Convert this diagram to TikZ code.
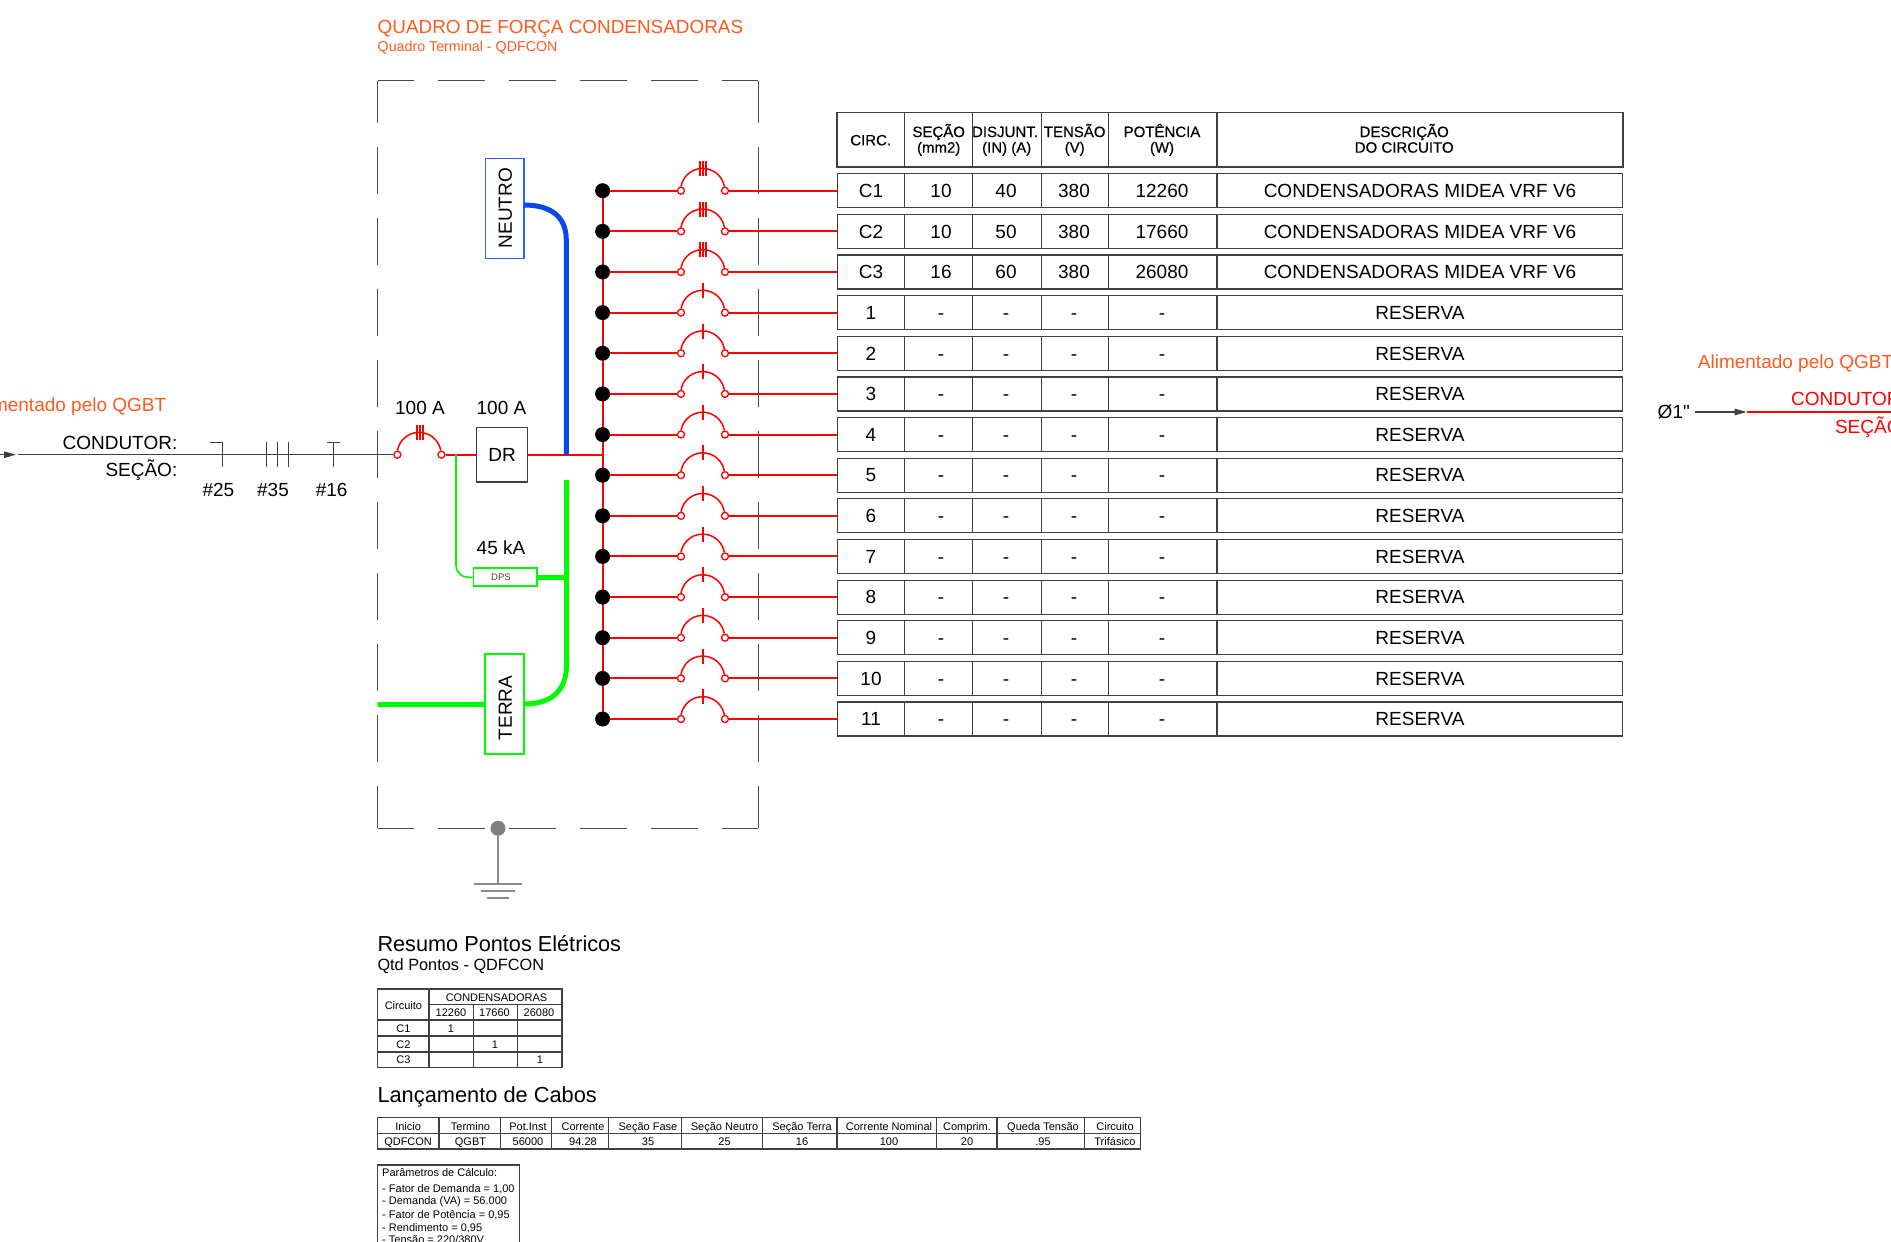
\documentclass[tikz,border=0pt]{standalone}
\usepackage{fontspec}
\setmainfont{Liberation Sans}
\newfontfamily\meionegrito[FakeBold=0.35]{Liberation Sans}
\newfontfamily\fonteplana{Liberation Sans}
\usetikzlibrary{arrows.meta}
\definecolor{laranja}{HTML}{FF5A1E}
\definecolor{azul}{HTML}{0A46F0}
\definecolor{azulclaro}{HTML}{2864FF}
\definecolor{verde}{HTML}{00FA00}
\definecolor{traco}{HTML}{404040}
\definecolor{quadro}{HTML}{484848}
\tikzset{
	tam/.style={font=\fontsize{#1}{#1}\selectfont, inner sep=0pt, text height=0.716*#1 pt, text depth=0pt},
	cab/.style={font=\meionegrito\fontsize{15}{15}\selectfont, inner sep=0pt, text height=10.7pt, text depth=0pt},
	fio/.style={line width=2pt, color=red},
	fiofino/.style={line width=1.5pt, color=red},
	preto/.style={line width=1.2pt, color=traco},
	tabela/.style={line width=1.2pt, color=traco},
	pontilha/.style={line width=1.2pt, color=quadro, dash pattern=on 47.3pt off 23.7pt},
	seta/.style={-{Triangle[length=12pt, width=6.5pt]}},
	borne/.style={circle, draw=red, fill=white, line width=1.3pt, minimum size=7pt, inner sep=0pt},
	ponto/.style={circle, fill=black, minimum size=15pt, inner sep=0pt},
	terrafio/.style={line width=2pt, color=black!45},
}
\def\tico(#1,#2){\draw[fiofino] (#1,#2-29.7) -- (#1,#2-14.7);}
\def\disjuntor(#1,#2)#3{
	\node[borne] (#3a) at (#1-22,#2) {};
	\node[borne] (#3b) at (#1+22,#2) {};
	\draw[fiofino] (#3a.north) arc[start angle=170, end angle=10, radius=22pt];
}
\begin{document}
\begin{tikzpicture}[x=1pt, y=-1pt]
	\useasboundingbox (0,0) rectangle (1891,1242);
	\clip (0,0) rectangle (1891,1242);
	%%%%% QUADRO %%%%%

	\node[tam=18.9, color=laranja, anchor=west] (titulo) at (377.5,26.5) {QUADRO DE FORÇA CONDENSADORAS};
	\node[tam=14.25, color=laranja, anchor=west] (subtitulo) at (377.5,46) {Quadro Terminal - QDFCON};

	\draw[pontilha, dash phase=11pt] (377.5,80.7) -- (758.2,80.7);
	\draw[pontilha, dash phase=4.7pt] (377.5,80.7) -- (377.5,828.3);
	\draw[pontilha, dash phase=4.7pt] (758.2,80.7) -- (758.2,828.3);
	\draw[pontilha, dash phase=11pt] (377.5,828.3) -- (758.2,828.3);

	%%%%% TERRA DO QUADRO %%%%%
	\node[circle, fill=black!50, minimum size=15pt, inner sep=0pt] (aterra) at (498,828.3) {};
	\coordinate (haste) at (498,884);
	\draw[terrafio] (aterra) -- (haste);
	\draw[terrafio] (474.3,884) -- (521.7,884);
	\draw[terrafio] (480.7,890.7) -- (515.3,890.7);
	\draw[terrafio] (487.3,897.7) -- (509,897.7);

	%%%%% ENTRADA %%%%%
	\node[tam=19, color=laranja, anchor=east] (alimesq) at (166.5,404.3) {Alimentado pelo QGBT};
	\node[tam=19, anchor=east] (condutor) at (177.5,442.3) {CONDUTOR:};
	\node[tam=19, anchor=east] (secao) at (177.5,469.3) {SEÇÃO:};
	\coordinate (inicio) at (-4,454.7);
	\coordinate (setafim) at (16,454.7);
	\coordinate (entrada) at (18,454.7);
	\draw[preto, seta] (inicio) -- (setafim);

	\disjuntor(419.4,454.7){geral}
	\tico(417,454.7) \tico(420,454.7) \tico(423,454.7)
	\draw[preto] (entrada) -- (gerala);

	\draw[preto] (210,442.3) -- (222.4,442.3) -- (222.4,466.7);
	\draw[preto] (266.3,442.3) -- (266.3,466.7);
	\draw[preto] (277.5,442.3) -- (277.5,466.7);
	\draw[preto] (288.8,442.3) -- (288.8,466.7);
	\draw[preto] (327,442.3) -- (339.8,442.3);
	\draw[preto] (333.5,442.3) -- (333.5,466.7);
	\node[tam=19] (fio25) at (218.4,490) {\#25};
	\node[tam=19] (fio35) at (273,490) {\#35};
	\node[tam=19] (fio16) at (331.6,490) {\#16};
	\node[tam=19] (amp1) at (420,407.7) {100 A};
	\node[tam=19] (amp2) at (501.5,407.7) {100 A};

	\node[draw=traco, line width=1.2pt, minimum width=51pt, minimum height=54.7pt, tam=19] (dr) at (502,454.7) {DR};
	\coordinate (derivacao) at (456,454.7);
	\coordinate (juncaon) at (566.3,454.7);
	\coordinate (barra) at (602.6,454.7);
	\draw[fio] (geralb) -- (dr.west);
	\draw[fio] (dr.east) -- (barra);

	%%%%% NEUTRO E TERRA %%%%%
	\node[draw=azulclaro, line width=1.2pt, minimum width=38.3pt, minimum height=99.6pt, inner sep=0pt] (neutro) at (504.9,208.5) {};
	\node[tam=19, rotate=90] (neutrotxt) at (505,208) {NEUTRO};
	\coordinate (neutrosai) at (524,205);
	\draw[line width=5pt, color=azul] (neutrosai) .. controls (550,205) and (566.3,216) .. (566.3,240) -- (juncaon);

	\node[draw=verde, line width=1.8pt, minimum width=38.7pt, minimum height=100pt, inner sep=0pt] (terra) at (504.7,704.3) {};
	\node[tam=19, rotate=90] (terratxt) at (505,708) {TERRA};
	\coordinate (terrasai) at (524,704);
	\coordinate (terraent) at (377.5,704.5);
	\coordinate (terratopo) at (566.5,480);
	\draw[line width=5pt, color=verde] (terraent) -- (terra.west);
	\draw[line width=5pt, color=verde] (terrasai) .. controls (550,704) and (566.5,692) .. (566.5,665) -- (terratopo);

	\node[draw=verde, line width=1.8pt, minimum width=63.2pt, minimum height=18pt, inner sep=0pt] (dps) at (505,577.3) {};
	\node[tam=9.5, color=black!75] (dpstxt) at (501,577.5) {DPS};
	\coordinate (juncaod) at (566.5,577.3);
	\draw[line width=1.6pt, color=verde, rounded corners=12pt] (derivacao) |- (dps.west);
	\draw[line width=5pt, color=verde] (dps.east) -- (juncaod);
	\node[tam=19] (ka) at (501,548) {45 kA};

	%%%%% CIRCUITOS %%%%%
	\node[draw=traco, line width=1.6pt, minimum width=785.5pt, minimum height=54.3pt, inner sep=0pt] (cabecalho) at (1230,139.8) {};
	\foreach \x in {904.7,972.7,1041.2,1108.7,1217}
		\draw[tabela] (\x,112.7) -- (\x,167);
	\node[cab] (h1) at (870.7,140) {CIRC.};
	\node[cab] (h2a) at (938.7,131.7) {SEÇÃO};
	\node[cab] (h2b) at (938.7,147.3) {(mm2)};
	\node[cab] (h3a) at (1005,131.7) {DISJUNT.};
	\node[cab] (h3b) at (1006.7,147.3) {(IN) (A)};
	\node[cab] (h4a) at (1074.7,131.7) {TENSÃO};
	\node[cab] (h4b) at (1074.7,147.3) {(V)};
	\node[cab] (h5a) at (1162,131.7) {POTÊNCIA};
	\node[cab] (h5b) at (1162,147.3) {(W)};
	\node[cab] (h6a) at (1404.2,131.7) {DESCRIÇÃO};
	\node[cab] (h6b) at (1404.2,147.3) {DO CIRCUITO};

	\draw[fio] (602.6,190.7) -- (602.6,719);
	\foreach \circuito/\secao/\disj/\tensao/\pot/\desc [count=\i from 0] in {
		C1/10/40/380/12260/CONDENSADORAS MIDEA VRF V6,
		C2/10/50/380/17660/CONDENSADORAS MIDEA VRF V6,
		C3/16/60/380/26080/CONDENSADORAS MIDEA VRF V6,
		1/-/-/-/-/RESERVA, 2/-/-/-/-/RESERVA, 3/-/-/-/-/RESERVA,
		4/-/-/-/-/RESERVA, 5/-/-/-/-/RESERVA, 6/-/-/-/-/RESERVA,
		7/-/-/-/-/RESERVA, 8/-/-/-/-/RESERVA, 9/-/-/-/-/RESERVA,
		10/-/-/-/-/RESERVA, 11/-/-/-/-/RESERVA}
	{
		\pgfmathsetmacro\yy{190.7+\i*40.64}
		\node[draw=traco, line width=1.2pt, minimum width=785.5pt, minimum height=34pt, inner sep=0pt] (linha\i) at (1230,\yy) {};
		\foreach \x in {904.7,972.7,1041.2,1108.7,1217}
			\draw[tabela] (\x,\yy-17) -- (\x,\yy+17);
		\node[tam=19] (a\i) at (871,\yy) {\circuito};
		\node[tam=19] (b\i) at (941,\yy) {\secao};
		\node[tam=19] (c\i) at (1006,\yy) {\disj};
		\node[tam=19] (d\i) at (1074,\yy) {\tensao};
		\node[tam=19] (e\i) at (1162,\yy) {\pot};
		\node[tam=19] (f\i) at (1420,\yy) {\desc};
		\node[ponto] (dot\i) at (602.6,\yy) {};
		\disjuntor(703,\yy){cb\i}
		\draw[fio] (dot\i) -- (cb\i a);
		\draw[fio] (cb\i b) -- (linha\i.west);
		\ifnum\i<3
			\tico(700,\yy) \tico(703,\yy) \tico(706,\yy)
		\else
			\tico(703,\yy)
		\fi
	}

	%%%%% SAIDA DIREITA %%%%%
	\node[tam=19, color=laranja, anchor=west] (alimdir) at (1697.7,361.3) {Alimentado pelo QGBT};
	\node[tam=19, anchor=east] (eletroduto) at (1690,411.3) {\fonteplana Ø1"};
	\coordinate (elet) at (1695,412);
	\coordinate (seta2) at (1746.7,412);
	\coordinate (fimdir) at (1895,412);
	\draw[preto, seta] (elet) -- (seta2);
	\draw[fio] (seta2) -- (fimdir);
	\node[tam=19, color=red, anchor=east] (conddir) at (1906,399) {CONDUTOR:};
	\node[tam=19, color=red, anchor=east] (secdir) at (1907,426.7) {SEÇÃO:};

	%%%%% RESUMO %%%%%
	\node[tam=21.7, anchor=west] (resumo) at (377.3,944) {Resumo Pontos Elétricos};
	\node[tam=16.3, anchor=west] (qtd) at (377.3,964.3) {Qtd Pontos - QDFCON};

	\draw[tabela] (377.3,989) rectangle (562,1067.3);
	\draw[tabela] (429,989) -- (429,1067.3);
	\draw[tabela] (473.3,1004.3) -- (473.3,1067.3);
	\draw[tabela] (517.7,1004.3) -- (517.7,1067.3);
	\draw[tabela] (429,1004.3) -- (562,1004.3);
	\foreach \y in {1020,1036,1052}
		\draw[tabela] (377.3,\y) -- (562,\y);
	\node[tam=11] (r0) at (403.4,1005.5) {Circuito};
	\node[tam=11] (r1) at (496.5,997.5) {CONDENSADORAS};
	\node[tam=11] (r2) at (451,1012.8) {12260};
	\node[tam=11] (r3) at (494.5,1012.8) {17660};
	\node[tam=11] (r4) at (539,1012.8) {26080};
	\node[tam=11] (r5) at (403.4,1028.8) {C1};
	\node[tam=11] (r6) at (403.4,1044.8) {C2};
	\node[tam=11] (r7) at (403.4,1059.8) {C3};
	\node[tam=11] (r8) at (451,1028.8) {1};
	\node[tam=11] (r9) at (495,1044.8) {1};
	\node[tam=11] (r10) at (540,1059.8) {1};

	%%%%% CABOS %%%%%
	\node[tam=21.8, anchor=west] (lanc) at (377.3,1094.5) {Lançamento de Cabos};

	\draw[tabela] (377.3,1117.3) rectangle (1140.6,1149);
	\draw[tabela] (377.3,1133.3) -- (1140.6,1133.3);
	\foreach \x in {439,500.3,551.8,608.5,681.4,762.6,837,936.5,997,1084.5}
		\draw[tabela] (\x,1117.3) -- (\x,1149);
	\foreach \cx/\topo/\valor [count=\i] in {
		408.1/Inicio/QDFCON, 470.5/Termino/QGBT, 528/Pot.Inst/56000,
		583/Corrente/94.28, 648/Seção Fase/35, 724.5/Seção Neutro/25,
		802/Seção Terra/16, 889/Corrente Nominal/100, 967/Comprim./20,
		1043/Queda Tensão/.95, 1115/Circuito/Trifásico}
	{
		\node[tam=11] (cabo\i) at (\cx,1126.5) {\topo};
		\node[tam=11] (val\i) at (\cx,1141.5) {\valor};
	}

	%%%%% PARAMETROS %%%%%
	\draw[tabela] (377.3,1260) -- (377.3,1165) -- (519.2,1165) -- (519.2,1260);
	\foreach \y/\txt [count=\i] in {
		1172.7/{Parâmetros de Cálculo:}, 1188.3/{- Fator de Demanda = 1,00},
		1200.3/{- Demanda (VA) = 56.000}, 1214.3/{- Fator de Potência = 0,95},
		1227.3/{- Rendimento = 0,95}, 1240/{- Tensão = 220/380V}}
		\node[tam=11, anchor=west] (par\i) at (382,\y) {\txt};

	%%%%% END %%%%%
\end{tikzpicture}
\end{document}
